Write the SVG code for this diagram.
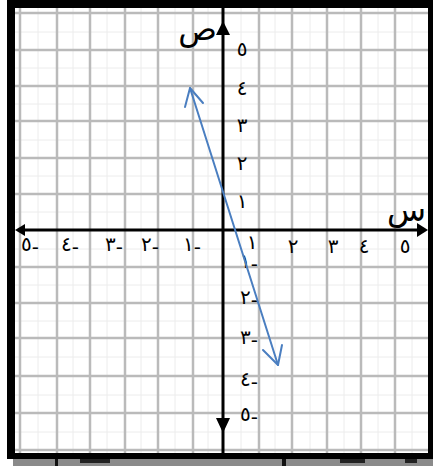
<svg xmlns="http://www.w3.org/2000/svg" width="433" height="466" viewBox="0 0 433 466">
<style>
.grid line{stroke:#bababa;stroke-width:2.5}
.minor line{stroke:#ececec;stroke-width:1}
.ax{stroke:#000;stroke-width:3;fill:none}
.lbl{font-family:"DejaVu Sans",sans-serif;font-size:20px;fill:#000;direction:ltr;unicode-bidi:bidi-override}
.big{font-family:"DejaVu Sans",sans-serif;font-size:32px;fill:#000}
.blue{stroke:#4a7ec0;stroke-width:2;fill:none;stroke-linecap:round;stroke-linejoin:round}
</style>
<rect x="0" y="0" width="433" height="466" fill="#fff"/>
<g id="grid">
<g class="minor">
<line x1="38" y1="8" x2="38" y2="453"/><line x1="73" y1="8" x2="73" y2="453"/><line x1="107" y1="8" x2="107" y2="453"/><line x1="141" y1="8" x2="141" y2="453"/><line x1="175" y1="8" x2="175" y2="453"/><line x1="208" y1="8" x2="208" y2="453"/><line x1="241" y1="8" x2="241" y2="453"/><line x1="275" y1="8" x2="275" y2="453"/><line x1="310" y1="8" x2="310" y2="453"/><line x1="344" y1="8" x2="344" y2="453"/><line x1="378" y1="8" x2="378" y2="453"/><line x1="412" y1="8" x2="412" y2="453"/>
<line x1="15" y1="32" x2="428" y2="32"/><line x1="15" y1="68" x2="428" y2="68"/><line x1="15" y1="104" x2="428" y2="104"/><line x1="15" y1="140" x2="428" y2="140"/><line x1="15" y1="176" x2="428" y2="176"/><line x1="15" y1="212" x2="428" y2="212"/><line x1="15" y1="249" x2="428" y2="249"/><line x1="15" y1="285" x2="428" y2="285"/><line x1="15" y1="321" x2="428" y2="321"/><line x1="15" y1="357" x2="428" y2="357"/><line x1="15" y1="395" x2="428" y2="395"/><line x1="15" y1="432" x2="428" y2="432"/>
</g>
<g class="grid">
<line x1="20" y1="8" x2="20" y2="453"/><line x1="57" y1="8" x2="57" y2="453"/><line x1="90" y1="8" x2="90" y2="453"/><line x1="125" y1="8" x2="125" y2="453"/><line x1="158" y1="8" x2="158" y2="453"/><line x1="193" y1="8" x2="193" y2="453"/><line x1="259" y1="8" x2="259" y2="453"/><line x1="292" y1="8" x2="292" y2="453"/><line x1="327" y1="8" x2="327" y2="453"/><line x1="361" y1="8" x2="361" y2="453"/><line x1="395" y1="8" x2="395" y2="453"/>
<line x1="15" y1="13" x2="428" y2="13"/><line x1="15" y1="50" x2="428" y2="50"/><line x1="15" y1="86" x2="428" y2="86"/><line x1="15" y1="121" x2="428" y2="121"/><line x1="15" y1="158" x2="428" y2="158"/><line x1="15" y1="194" x2="428" y2="194"/><line x1="15" y1="267" x2="428" y2="267"/><line x1="15" y1="303" x2="428" y2="303"/><line x1="15" y1="338" x2="428" y2="338"/><line x1="15" y1="376" x2="428" y2="376"/><line x1="15" y1="413" x2="428" y2="413"/><line x1="15" y1="450" x2="428" y2="450"/>
</g>
</g>
<g id="axes">
<line class="ax" x1="22" y1="230" x2="420" y2="230"/>
<line class="ax" x1="223" y1="8" x2="223" y2="453"/>
<polygon points="15,230 25,224 25,236" fill="#000"/>
<polygon points="428,230 417,223 417,237" fill="#000"/>
<polygon points="223,21 216,35 230,35" fill="#000"/>
<polygon points="223,433 216,418 230,418" fill="#000"/>
</g>
<g id="axis-titles">
<text class="big" x="217" y="40" text-anchor="end">ص</text>
<text class="big" x="426" y="221" font-size="26" text-anchor="end">س</text>
</g>
<g id="y-labels">
<text class="lbl" x="242" y="56" text-anchor="middle">٥</text>
<text class="lbl" x="242" y="95" text-anchor="middle">٤</text>
<text class="lbl" x="242" y="132" text-anchor="middle">٣</text>
<text class="lbl" x="242" y="170" text-anchor="middle">٢</text>
<text class="lbl" x="242" y="208" text-anchor="middle">١</text>
<text class="lbl" x="258" y="268" text-anchor="end">١<tspan dy="3">-</tspan></text>
<text class="lbl" x="258" y="304" text-anchor="end">٢<tspan dy="3">-</tspan></text>
<text class="lbl" x="258" y="344" text-anchor="end">٣<tspan dy="3">-</tspan></text>
<text class="lbl" x="258" y="386" text-anchor="end">٤<tspan dy="3">-</tspan></text>
<text class="lbl" x="258" y="421" text-anchor="end">٥<tspan dy="3">-</tspan></text>
</g>
<g id="x-labels">
<text class="lbl" x="252" y="249" text-anchor="middle">١</text>
<text class="lbl" x="293" y="253" text-anchor="middle">٢</text>
<text class="lbl" x="333" y="253" text-anchor="middle">٣</text>
<text class="lbl" x="364" y="253" text-anchor="middle">٤</text>
<text class="lbl" x="405" y="253" text-anchor="middle">٥</text>
<text class="lbl" x="30" y="251" text-anchor="middle">٥<tspan dy="3">-</tspan></text>
<text class="lbl" x="70" y="251" text-anchor="middle">٤<tspan dy="3">-</tspan></text>
<text class="lbl" x="114" y="251" text-anchor="middle">٣<tspan dy="3">-</tspan></text>
<text class="lbl" x="150" y="251" text-anchor="middle">٢<tspan dy="3">-</tspan></text>
<text class="lbl" x="192" y="251" text-anchor="middle">١<tspan dy="3">-</tspan></text>
</g>
<g id="connectors">
<line class="blue" x1="190" y1="88" x2="278" y2="365"/>
<polyline class="blue" points="185,107 190,88 203,103"/>
<polyline class="blue" points="263,350 278,365 282,345"/>
</g>
<g id="frame">
<rect x="7" y="0" width="426" height="8" fill="#000"/>
<rect x="7" y="0" width="8" height="459" fill="#000"/>
<rect x="428" y="0" width="5" height="459" fill="#000"/>
<rect x="7" y="453" width="426" height="6" fill="#000"/>
<rect x="13" y="459" width="420" height="7" fill="#8a8a8a"/>
<rect x="55" y="459" width="3" height="7" fill="#111"/>
<rect x="80" y="459" width="30" height="4" fill="#222"/>
<rect x="282" y="459" width="4" height="7" fill="#111"/>
<rect x="340" y="459" width="25" height="4" fill="#222"/>
<rect x="405" y="459" width="12" height="4" fill="#222"/>
</g>
</svg>
